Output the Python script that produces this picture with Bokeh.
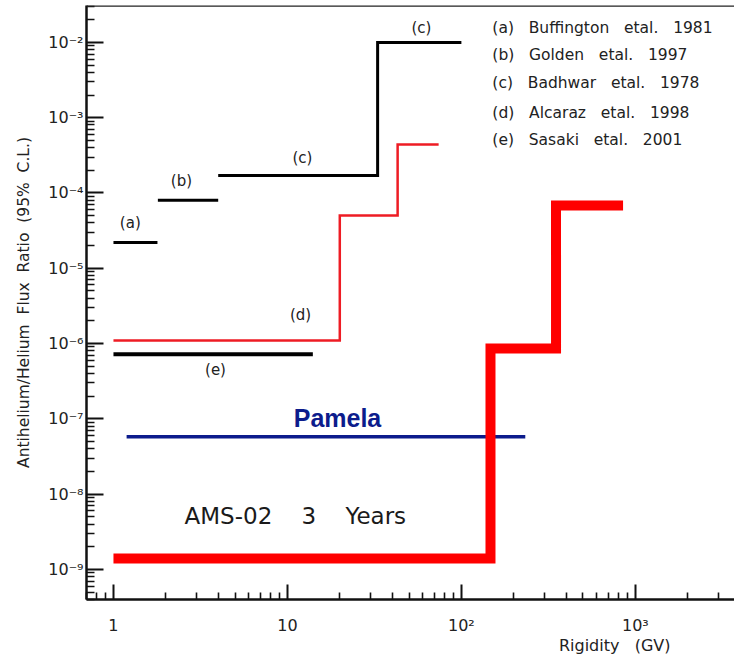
from bokeh.plotting import figure
from bokeh.models import (Range1d, FixedTicker, CustomJSTickFormatter, Label, LabelSet,
                          ColumnDataSource, Span, Title)
from bokeh.core.properties import value
from bokeh.embed import file_html
from bokeh.resources import INLINE

FONT = "DejaVu Sans"
SP = "\u00a0"

# ---------------- data ----------------
a_x = [1.0, 1.79]
a_y = [2.2e-5, 2.2e-5]
b_x = [1.8, 4.0]
b_y = [8.0e-5, 8.0e-5]
c_edges = [4.0, 33.0, 100.0]
c_vals = [1.7e-4, 1.0e-2]
d_edges = [1.0, 20.0, 43.0, 74.0]
d_vals = [1.1e-6, 5.0e-5, 4.4e-4]
e_x = [1.0, 14.0]
e_y = [7.2e-7, 7.2e-7]
pamela_x = [1.19, 233.0]
pamela_y = [5.8e-8, 5.8e-8]
ams_edges = [1.0, 147.0, 350.0, 850.0]
ams_vals = [1.4e-9, 8.6e-7, 6.8e-5]

y_major = [1e-9, 1e-8, 1e-7, 1e-6, 1e-5, 1e-4, 1e-3, 1e-2]
y_labels = ["10⁻⁹", "10⁻⁸", "10⁻⁷", "10⁻⁶", "10⁻⁵", "10⁻⁴", "10⁻³", "10⁻²"]
x_major = [1, 10, 100, 1000]
x_labels = ["1", "10", "10²", "10³"]

legend_texts = ["(a)   Buffington   etal.   1981", "(b)   Golden   etal.   1997",
                "(c)   Badhwar   etal.   1978", "(d)   Alcaraz   etal.   1998",
                "(e)   Sasaki   etal.   2001"]
tag_texts = ["(c)", "(b)", "(a)", "(c)", "(d)", "(e)"]


def nb(s):
    return s.replace(" ", SP)


x_lo, x_hi = 10 ** -0.155, 10 ** 3.57
y_lo, y_hi = 10 ** -9.40, 10 ** -1.51

p = figure(width=734, height=658, x_axis_type="log", y_axis_type="log",
           x_range=Range1d(x_lo, x_hi), y_range=Range1d(y_lo, y_hi),
           output_backend="svg", toolbar_location=None,
           min_border_left=86, min_border_right=0, min_border_top=5, min_border_bottom=59)
p.outline_line_color = None
p.grid.visible = False
p.background_fill_color = "white"
p.border_fill_color = "white"
p.add_layout(Span(location=y_hi, dimension="width", line_color="#222222", line_width=2.5))

# minor ticks
y_minor = [m * 10.0 ** k for k in range(-10, -1) for m in range(2, 10)]
x_minor = [m * 10.0 ** k for k in range(-1, 4) for m in range(2, 10)]

PICK = ("let b=0,d=1e9;for(let i=0;i<t.length;i++){const e=Math.abs(Math.log10(t[i])-"
        "Math.log10(tick));if(e<d){d=e;b=i;}}return l[b];")
p.yaxis.ticker = FixedTicker(ticks=y_major, minor_ticks=y_minor)
p.xaxis.ticker = FixedTicker(ticks=x_major, minor_ticks=x_minor)
p.yaxis.formatter = CustomJSTickFormatter(args=dict(t=y_major, l=y_labels), code=PICK)
p.xaxis.formatter = CustomJSTickFormatter(args=dict(t=x_major, l=x_labels), code=PICK)

for ax, mj, mn in ((p.xaxis, 15, 7), (p.yaxis, 17, 8)):
    ax.axis_line_width = 2.5
    ax.axis_line_color = "#111111"
    ax.major_tick_in = mj
    ax.major_tick_out = 0
    ax.minor_tick_in = mn
    ax.minor_tick_out = 0
    ax.major_tick_line_width = 2
    ax.minor_tick_line_width = 1.6
    ax.major_tick_line_color = "#111111"
    ax.minor_tick_line_color = "#111111"
    ax.major_label_text_font = FONT
    ax.major_label_text_font_size = "16px"
    ax.major_label_text_color = "#222222"

p.yaxis.major_label_standoff = 3
p.xaxis.major_label_standoff = 16
p.yaxis.axis_label = nb("Antihelium/Helium  Flux  Ratio  (95%  C.L.)")
p.yaxis.axis_label_text_font = FONT
p.yaxis.axis_label_text_font_size = "15.5px"
p.yaxis.axis_label_text_font_style = "normal"
p.yaxis.axis_label_text_color = "#222222"
p.yaxis.axis_label_standoff = 12

p.add_layout(Title(text=nb("Rigidity   (GV)"), align="right", offset=64, standoff=-7,
                   text_font=FONT, text_font_size="16px", text_font_style="normal",
                   text_color="#222222"), "below")

# ---------------- curves ----------------
p.line(a_x, a_y, line_color="black", line_width=3)
p.line(b_x, b_y, line_color="black", line_width=3)
p.step(c_edges, c_vals + [c_vals[-1]], mode="after", line_color="black", line_width=3,
       line_join="miter")
p.step(d_edges, d_vals + [d_vals[-1]], mode="after", line_color="#ee1c24", line_width=2.5,
       line_join="miter")
p.line(e_x, e_y, line_color="black", line_width=4)
p.line(pamela_x, pamela_y, line_color="#0c1c8c", line_width=3.5)
p.step(ams_edges, ams_vals + [ams_vals[-1]], mode="after", line_color="#ff0000", line_width=10,
       line_join="miter")

# ---------------- annotations ----------------
tags = ColumnDataSource(dict(x=[58.9, 2.46, 1.25, 12.2, 11.9, 3.86],
                             y=[1.53e-2, 1.43e-4, 3.94e-5, 2.88e-4, 2.37e-6, 4.4e-7],
                             t=tag_texts))
p.add_layout(LabelSet(source=tags, x="x", y="y", text="t", text_align="center",
                      text_baseline="middle", text_font=value(FONT),
                      text_font_size=value("15px"), text_color="#222222"))
leg = ColumnDataSource(dict(x=[150.7] * 5, y=[1.53e-2, 6.72e-3, 2.86e-3, 1.17e-3, 5.0e-4],
                            t=[nb(s) for s in legend_texts]))
p.add_layout(LabelSet(source=leg, x="x", y="y", text="t", text_align="left",
                      text_baseline="middle", text_font=value(FONT),
                      text_font_size=value("15.5px"), text_color="#222222"))
p.add_layout(Label(x=19.4, y=1.02e-7, text="Pamela", text_align="center", text_baseline="middle",
                   text_font="Liberation Sans", text_font_style="bold", text_font_size="25px",
                   text_color="#0c1c8c"))
p.add_layout(Label(x=11.1, y=5.07e-9, text=nb("AMS-02    3    Years"), text_align="center",
                   text_baseline="middle", text_font=FONT, text_font_size="23px",
                   text_color="#1a1a1a"))

open("out.html", "w").write(file_html(p, INLINE))
